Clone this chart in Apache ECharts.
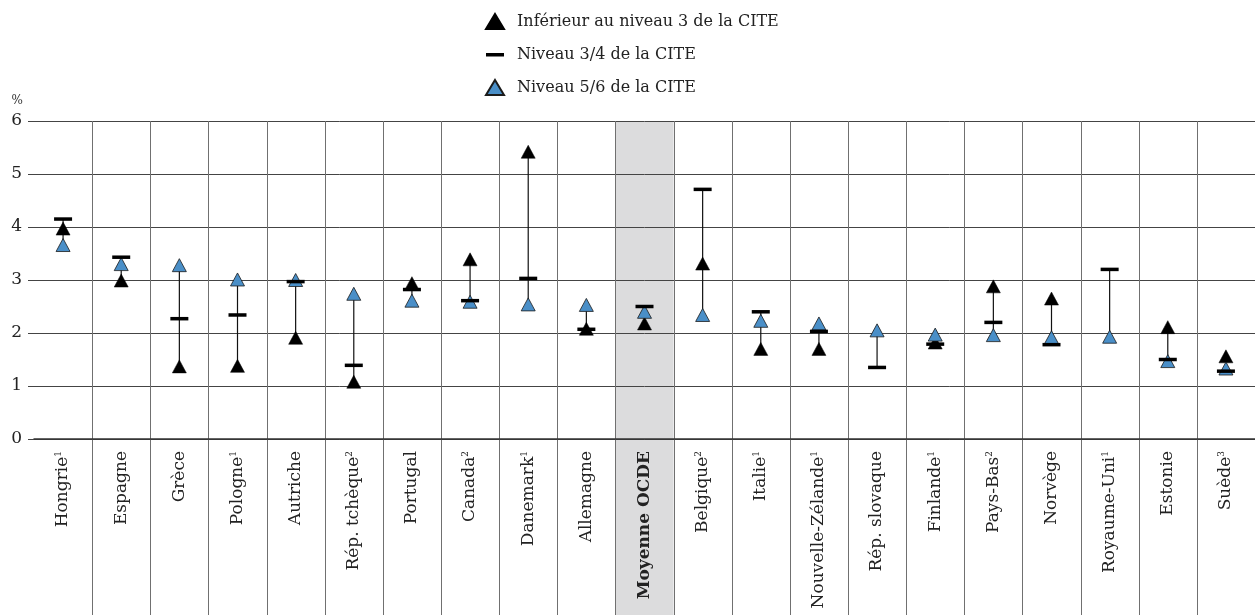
<!DOCTYPE html>
<html>
<head>
<meta charset="utf-8">
<script src="https://cdn.jsdelivr.net/npm/echarts@6/dist/echarts.min.js"></script>
<style>
  html, body { margin: 0; padding: 0; background: #fff; }
  #main { width: 1255px; height: 615px; }
</style>
</head>
<body>
<div id="main"></div>
<script>
// pays (l'exposant sert aux notes)
const countries = ["Hongrie", "Espagne", "Grèce", "Pologne", "Autriche", "Rép. tchèque", "Portugal", "Canada", "Danemark", "Allemagne", "Moyenne OCDE", "Belgique", "Italie", "Nouvelle-Zélande", "Rép. slovaque", "Finlande", "Pays-Bas", "Norvège", "Royaume-Uni", "Estonie", "Suède"];
const notes = ["1", "", "", "1", "", "2", "", "2", "1", "", "", "2", "1", "1", "", "1", "2", "", "1", "", "3"];
const averageName = "Moyenne OCDE";

// Inférieur au niveau 3 de la CITE
const belowUpper = [3.97, 2.99, 1.37, 1.38, 1.91, 1.08, 2.94, 3.39, 5.42, 2.08, 2.18, 3.31, 1.70, 1.70, null, 1.82, 2.88, 2.65, null, 2.11, 1.56];
// Niveau 3/4 de la CITE
const upperSecondary = [4.15, 3.43, 2.27, 2.34, 2.97, 1.39, 2.82, 2.61, 3.03, 2.07, 2.50, 4.71, 2.40, 2.03, 1.35, 1.79, 2.20, 1.78, 3.20, 1.50, 1.28];
// Niveau 5/6 de la CITE
const tertiary = [3.66, 3.30, 3.28, 3.01, 3.00, 2.74, 2.61, 2.59, 2.54, 2.53, 2.40, 2.34, 2.23, 2.18, 2.05, 1.97, 1.96, 1.92, 1.93, 1.47, 1.33];

const yTicks = [0, 1, 2, 3, 4, 5, 6];

const font = "DejaVu Serif";
const chart = echarts.init(document.getElementById("main"));

// min / max par pays pour le trait vertical
const ranges = countries.map((c, i) => {
  const v = [belowUpper[i], upperSecondary[i], tertiary[i]].filter(x => x != null);
  return [i, Math.min(...v), Math.max(...v)];
});
const avgIndex = countries.indexOf(averageName);
const yMax = yTicks[yTicks.length - 1];

// tiret de légende (les petits points invisibles gardent la hauteur de l'icône)
const dashIcon = "path://M0,0L0.001,0L0,0.001Z M0,6L18,6L18,9.5L0,9.5Z M0,15L0.001,15L0,15.001Z";

chart.setOption({
  animation: false,
  textStyle: { fontFamily: font, color: "#222" },
  legend: {
    orient: "vertical",
    left: 480,
    top: 8,
    itemWidth: 18,
    itemHeight: 15,
    itemGap: 16.5,
    textStyle: { fontFamily: font, fontSize: 16, color: "#222", padding: [0, 0, 0, 8] },
    data: [
      { name: "Inférieur au niveau 3 de la CITE", icon: "triangle" },
      { name: "Niveau 3/4 de la CITE", icon: dashIcon },
      { name: "Niveau 5/6 de la CITE", icon: "triangle" }
    ]
  },
  grid: { left: 34, top: 121, width: 1225, bottom: 176 },
  xAxis: {
    type: "category",
    data: countries,
    z: 1,
    boundaryGap: true,
    axisLine: { lineStyle: { color: "#333", width: 1.5 } },
    axisTick: { show: false },
    splitLine: { show: false },
    axisLabel: {
      interval: 0,
      rotate: 90,
      margin: 12,
      fontFamily: font,
      fontSize: 17,
      color: "#222",
      formatter: function (v, i) {
        if (v === averageName) return "{b|" + v + "}";
        return notes[i] ? v + "{s|" + notes[i] + "}" : v;
      },
      rich: {
        b: { fontFamily: font, fontSize: 17, fontWeight: "bold", color: "#222" },
        s: { fontFamily: font, fontSize: 9, color: "#222", verticalAlign: "top", padding: [0, 0, 8, 0] }
      }
    }
  },
  yAxis: {
    type: "value",
    min: yTicks[0],
    max: yMax,
    interval: 1,
    z: 1,
    name: "%",
    nameLocation: "end",
    nameGap: 14,
    nameTextStyle: { fontFamily: font, fontSize: 12, color: "#333", align: "right", padding: [0, 11, 0, 0] },
    axisLine: { show: false },
    axisTick: { show: true, length: 6, lineStyle: { color: "#444" } },
    axisLabel: { margin: 12, fontFamily: font, fontSize: 17, color: "#222" },
    splitLine: { lineStyle: { color: "#444", width: 1 } }
  },
  series: [
    {
      // bande grise de la moyenne OCDE
      type: "custom",
      z: 0,
      silent: true,
      clip: false,
      data: [[avgIndex, yMax]],
      renderItem: function (params, api) {
        const top = api.coord([api.value(0), api.value(1)]);
        const w = api.size([1, 0])[0];
        return {
          type: "rect",
          shape: { x: top[0] - w / 2, y: top[1], width: w, height: api.getHeight() - top[1] },
          style: { fill: "#dcdcdd" }
        };
      }
    },
    {
      // séparateurs verticaux entre pays, jusqu'en bas des libellés
      type: "custom",
      z: 1,
      silent: true,
      clip: false,
      data: countries.slice(1).map((c, k) => [k + 1, yMax]),
      renderItem: function (params, api) {
        const top = api.coord([api.value(0), api.value(1)]);
        const w = api.size([1, 0])[0];
        const x = Math.round(top[0] - w / 2) + 0.5;
        return {
          type: "line",
          shape: { x1: x, y1: top[1], x2: x, y2: api.getHeight() },
          style: { stroke: "#707070", lineWidth: 1 }
        };
      }
    },
    {
      type: "custom",
      z: 2,
      silent: true,
      data: ranges,
      renderItem: function (params, api) {
        const a = api.coord([api.value(0), api.value(1)]);
        const b = api.coord([api.value(0), api.value(2)]);
        return {
          type: "line",
          shape: { x1: a[0], y1: a[1], x2: b[0], y2: b[1] },
          style: { stroke: "#111", lineWidth: 1.2 }
        };
      }
    },
    {
      name: "Inférieur au niveau 3 de la CITE",
      type: "scatter",
      z: 3,
      symbol: "triangle",
      symbolSize: [14, 13],
      itemStyle: { color: "#000", borderColor: "#000", borderWidth: 0.5, opacity: 1 },
      data: belowUpper
    },
    {
      name: "Niveau 5/6 de la CITE",
      type: "scatter",
      z: 4,
      symbol: "triangle",
      symbolSize: [14, 13],
      itemStyle: { color: "#4a8fc8", borderColor: "#1b1b1b", borderWidth: 0.8, opacity: 1 },
      data: tertiary
    },
    {
      name: "Niveau 3/4 de la CITE",
      type: "scatter",
      z: 5,
      symbol: "rect",
      symbolSize: [18, 3.5],
      itemStyle: { color: "#000", opacity: 1 },
      data: upperSecondary
    }
  ]
});
</script>
</body>
</html>
